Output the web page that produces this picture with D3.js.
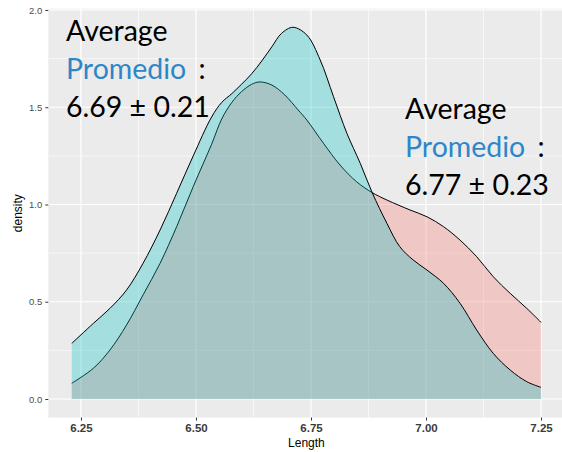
<!DOCTYPE html>
<html>
<head>
<meta charset="utf-8">
<script src="https://cdn.jsdelivr.net/npm/d3@7"></script>
<style>
  html, body { margin: 0; padding: 0; background: #ffffff; }
  svg { display: block; }
</style>
</head>
<body>
<svg id="chart" width="562" height="452"></svg>
<script>
// ---- data ----
const xTicks = [6.25, 6.50, 6.75, 7.00, 7.25];
const yTicks = [0.0, 0.5, 1.0, 1.5, 2.0];
const xMinor = [6.375, 6.625, 6.875, 7.125];
const yMinor = [0.25, 0.75, 1.25, 1.75];

const seriesNames = ["pink", "teal"];
const seriesColors = ["#F8766D", "#00BFC4"];

const lengthTeal = [6.23, 6.277, 6.313, 6.349, 6.385, 6.422, 6.458, 6.494, 6.534, 6.556, 6.578, 6.599, 6.621, 6.643, 6.665, 6.686, 6.711, 6.741, 6.77, 6.799, 6.828, 6.857, 6.883, 6.915, 6.943, 6.972, 7.002, 7.038, 7.074, 7.11, 7.146, 7.183, 7.219, 7.25];
const densityTeal = [0.286, 0.389, 0.466, 0.56, 0.698, 0.869, 1.058, 1.25, 1.45, 1.525, 1.57, 1.618, 1.672, 1.738, 1.811, 1.88, 1.911, 1.871, 1.743, 1.554, 1.366, 1.212, 1.061, 0.903, 0.783, 0.715, 0.663, 0.595, 0.492, 0.355, 0.235, 0.149, 0.089, 0.06];

const lengthPink = [6.23, 6.277, 6.313, 6.349, 6.385, 6.422, 6.458, 6.494, 6.534, 6.556, 6.578, 6.599, 6.621, 6.639, 6.665, 6.693, 6.722, 6.741, 6.777, 6.813, 6.849, 6.883, 6.915, 6.965, 7.002, 7.038, 7.074, 7.11, 7.146, 7.183, 7.219, 7.25];
const densityPink = [0.081, 0.158, 0.252, 0.38, 0.535, 0.698, 0.886, 1.092, 1.31, 1.44, 1.525, 1.58, 1.618, 1.63, 1.614, 1.563, 1.486, 1.434, 1.315, 1.203, 1.117, 1.061, 1.023, 0.972, 0.937, 0.886, 0.817, 0.732, 0.629, 0.543, 0.466, 0.394];

const annotations = [
  { word: "Average", label: "Promedio", value: "6.69 \u00B1 0.21", x: 66, y: 41 },
  { word: "Average", label: "Promedio", value: "6.77 \u00B1 0.23", x: 405, y: 119 }
];
const xTitle = "Length";
const yTitle = "density";

// ---- layout ----
const svg = d3.select("#chart");
const panel = { left: 48.3, right: 564.5, top: 8.7, bottom: 417.6 };

const x = d3.scaleLinear().domain([6.179, 7.301]).range([panel.left, panel.right]);
const y = d3.scaleLinear().domain([-0.0956, 2.0066]).range([panel.bottom, panel.top]);

svg.append("rect")
  .attr("x", panel.left).attr("y", panel.top)
  .attr("width", panel.right - panel.left).attr("height", panel.bottom - panel.top)
  .attr("fill", "#EBEBEB");

const grid = svg.append("g");
grid.selectAll(".xmin").data(xMinor).join("line")
  .attr("x1", d => x(d)).attr("x2", d => x(d))
  .attr("y1", panel.top).attr("y2", panel.bottom)
  .attr("stroke", "#ffffff").attr("stroke-width", 0.6);
grid.selectAll(".ymin").data(yMinor).join("line")
  .attr("y1", d => y(d)).attr("y2", d => y(d))
  .attr("x1", panel.left).attr("x2", panel.right)
  .attr("stroke", "#ffffff").attr("stroke-width", 0.6);
grid.selectAll(".xmaj").data(xTicks).join("line")
  .attr("x1", d => x(d)).attr("x2", d => x(d))
  .attr("y1", panel.top).attr("y2", panel.bottom)
  .attr("stroke", "#ffffff").attr("stroke-width", 1.2);
grid.selectAll(".ymaj").data(yTicks).join("line")
  .attr("y1", d => y(d)).attr("y2", d => y(d))
  .attr("x1", panel.left).attr("x2", panel.right)
  .attr("stroke", "#ffffff").attr("stroke-width", 1.2);

// ---- densities ----
const series = [
  { name: seriesNames[0], color: seriesColors[0], xs: lengthPink, ys: densityPink },
  { name: seriesNames[1], color: seriesColors[1], xs: lengthTeal, ys: densityTeal }
];

const area = d3.area()
  .x(d => x(d[0])).y0(y(0)).y1(d => y(d[1]))
  .curve(d3.curveCatmullRom.alpha(0.5));
const line = d3.line()
  .x(d => x(d[0])).y(d => y(d[1]))
  .curve(d3.curveCatmullRom.alpha(0.5));

series.forEach(s => {
  const pts = s.xs.map((v, i) => [v, s.ys[i]]);
  svg.append("path").datum(pts)
    .attr("d", area)
    .attr("fill", s.color).attr("fill-opacity", 0.3).attr("stroke", "none");
  svg.append("path").datum(pts)
    .attr("d", line)
    .attr("fill", "none").attr("stroke", "#000000").attr("stroke-width", 1);
});

// ---- axes ----
const yAxis = svg.append("g")
  .attr("transform", `translate(${panel.left},0)`)
  .call(d3.axisLeft(y).tickValues(yTicks).tickFormat(d3.format(".1f")).tickSize(3).tickPadding(3));
yAxis.select(".domain").remove();
yAxis.selectAll(".tick line").attr("stroke", "#333333").attr("stroke-width", 1);
yAxis.selectAll(".tick text")
  .attr("fill", "#4D4D4D").style("font-family", "'Liberation Sans', Arial, sans-serif").style("font-size", "9.5px");

const xAxis = svg.append("g")
  .attr("transform", `translate(0,${panel.bottom})`)
  .call(d3.axisBottom(x).tickValues(xTicks).tickFormat(d3.format(".2f")).tickSize(3).tickPadding(3));
xAxis.select(".domain").remove();
xAxis.selectAll(".tick line").attr("stroke", "#333333").attr("stroke-width", 1);
xAxis.selectAll(".tick text")
  .attr("fill", "#3A3A3A").style("font-family", "'Liberation Sans', Arial, sans-serif")
  .style("font-size", "11.5px").style("font-weight", "bold");

svg.append("text")
  .attr("x", (panel.left + panel.right) / 2).attr("y", 447)
  .attr("text-anchor", "middle")
  .style("font-family", "'Liberation Sans', Arial, sans-serif").style("font-size", "12px")
  .attr("fill", "#000").text(xTitle);

svg.append("text")
  .attr("transform", `translate(22,${(panel.top + panel.bottom) / 2}) rotate(-90)`)
  .attr("text-anchor", "middle")
  .style("font-family", "'Liberation Sans', Arial, sans-serif").style("font-size", "12px")
  .attr("fill", "#000").text(yTitle);

// ---- annotations ----
const annFont = "Lato, 'Open Sans', sans-serif";
annotations.forEach(a => {
  const g = svg.append("g").style("font-family", annFont).style("font-size", "28.5px");
  g.append("text").attr("x", a.x).attr("y", a.y).attr("fill", "#000").text(a.word);
  const t = g.append("text").attr("x", a.x).attr("y", a.y + 38);
  t.append("tspan").attr("fill", "#2E86C8").text(a.label);
  t.append("tspan").attr("fill", "#000").attr("dx", 5).text(" :");
  g.append("text").attr("x", a.x).attr("y", a.y + 76).attr("fill", "#000").text(a.value);
});
</script>
</body>
</html>
